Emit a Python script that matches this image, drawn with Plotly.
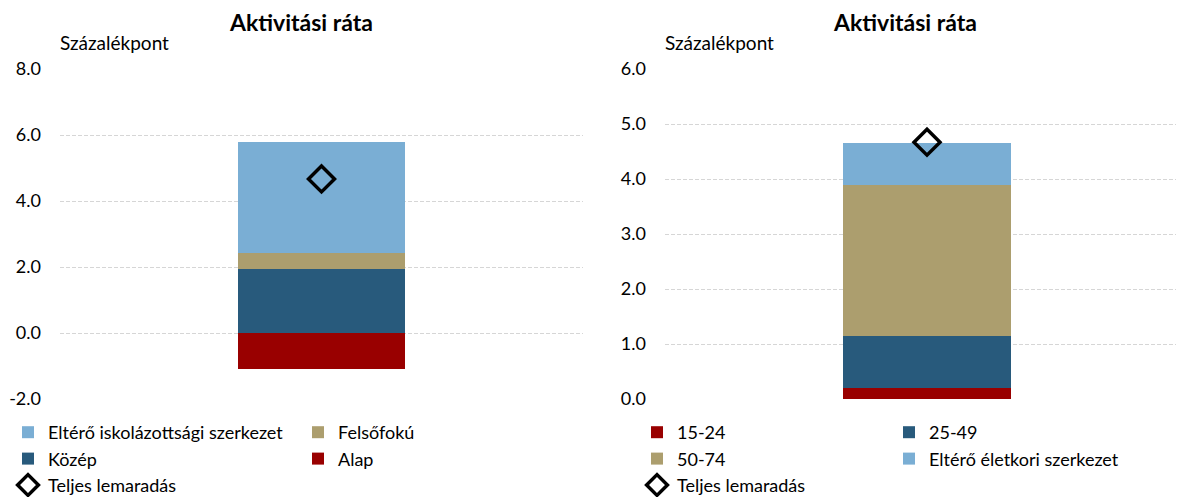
import plotly.graph_objects as go

# Left chart data (education structure)
left_categories = ["Aktivitási ráta"]
left_series = ["Alap", "Közép", "Felsőfokú", "Eltérő iskolázottsági szerkezet"]
left_values = [-1.10, 1.93, 0.48, 3.38]
left_colors = ["#990000", "#285a7c", "#ac9e6e", "#7aaed4"]
left_total = 4.67
left_tickvals = [-2, 0, 2, 4, 6, 8]
left_ticktext = ["-2.0", "0.0", "2.0", "4.0", "6.0", "8.0"]

# Right chart data (age structure)
right_categories = ["Aktivitási ráta"]
right_series = ["15-24", "25-49", "50-74", "Eltérő életkori szerkezet"]
right_values = [0.20, 0.94, 2.75, 0.77]
right_colors = ["#990000", "#285a7c", "#ac9e6e", "#7aaed4"]
right_total = 4.67
right_tickvals = [0, 1, 2, 3, 4, 5, 6]
right_ticktext = ["0.0", "1.0", "2.0", "3.0", "4.0", "5.0", "6.0"]

total_name = "Teljes lemaradás"
title_text = "Aktivitási ráta"
unit_text = "Százalékpont"

# legend layout (column groups, rank within the legend)
left_group = ["L2", "L1", "L2", "L1"]
left_rank = [5, 2, 4, 1]
right_group = ["R1", "R2", "R1", "R2"]
right_rank = [1, 4, 2, 5]

FONT = "Lato"
W, H = 1184, 497
OFF = 8  # page body margin offset
fig = go.Figure()

for name, val, col, grp, rk in zip(left_series, left_values, left_colors, left_group, left_rank):
    fig.add_trace(go.Bar(x=left_categories, y=[val], name=name, marker_color=col,
                         marker_line_width=0, width=0.32, xaxis="x", yaxis="y",
                         legend="legend", legendgroup=grp, legendrank=rk))
fig.add_trace(go.Scatter(x=left_categories, y=[left_total], name=total_name, mode="markers",
                         marker=dict(symbol="diamond-open", size=20, color="black",
                                     line=dict(width=3.5, color="black")),
                         xaxis="x", yaxis="y", legend="legend", legendgroup="L1", legendrank=3))

for name, val, col, grp, rk in zip(right_series, right_values, right_colors, right_group, right_rank):
    fig.add_trace(go.Bar(x=right_categories, y=[val], name=name, marker_color=col,
                         marker_line_width=0, width=0.32, xaxis="x2", yaxis="y2",
                         legend="legend2", legendgroup=grp, legendrank=rk))
fig.add_trace(go.Scatter(x=right_categories, y=[right_total], name=total_name, mode="markers",
                         marker=dict(symbol="diamond-open", size=20, color="black",
                                     line=dict(width=3.5, color="black")),
                         xaxis="x2", yaxis="y2", legend="legend2", legendgroup="R1", legendrank=3))

yax = dict(showgrid=True, gridcolor="#d6d6d6", griddash="4px,2px", gridwidth=1,
           zeroline=False, showline=False, ticks="",
           tickfont=dict(size=18, color="black"), ticklabelstandoff=18)
xax = dict(showticklabels=False, showgrid=False, zeroline=False, showline=False)

leg_common = dict(orientation="h", xref="container", yref="container",
                  xanchor="left", yanchor="top", entrywidthmode="pixels",
                  traceorder="grouped", tracegroupgap=0, font=dict(size=18),
                  bgcolor="rgba(0,0,0,0)", itemwidth=30)

L, T = 60 - OFF, 69 - OFF
PW = W - L
fig.update_layout(
    width=W, height=H,
    margin=dict(l=L, r=0, t=T, b=H - (399 - OFF), autoexpand=False),
    paper_bgcolor="white", plot_bgcolor="white",
    font=dict(family=FONT, size=17, color="black"),
    barmode="relative",
    bargap=0,
    xaxis=dict(domain=[0, (583 - 60) / PW], **xax),
    xaxis2=dict(domain=[(665 - 60) / PW, min(1.0, (1189 - 60) / PW)], **xax),
    yaxis=dict(range=[-2, 8], tickvals=left_tickvals, ticktext=left_ticktext, anchor="x", **yax),
    yaxis2=dict(range=[0, 6], tickvals=right_tickvals, ticktext=right_ticktext, anchor="x2", **yax),
    legend=dict(x=0.0, y=1 - (432 - OFF - 18) / H, entrywidth=245, **leg_common),
    legend2=dict(x=(658 - OFF - 21) / W, y=1 - (432 - OFF - 18) / H, entrywidth=207, **leg_common),
    showlegend=True,
)

PH = 330
def px_x(p):
    return (p - OFF - L) / PW

def px_y(p):
    return 1 + (T - (p - OFF)) / PH

annos = [
    dict(x=px_x(301), y=px_y(22), text="<b>" + title_text + "</b>",
         xanchor="center", yanchor="middle", font=dict(size=23)),
    dict(x=px_x(905), y=px_y(22), text="<b>" + title_text + "</b>",
         xanchor="center", yanchor="middle", font=dict(size=23)),
    dict(x=px_x(58), y=px_y(43), text=unit_text,
         xanchor="left", yanchor="middle", font=dict(size=19)),
    dict(x=px_x(663), y=px_y(43), text=unit_text,
         xanchor="left", yanchor="middle", font=dict(size=19)),
]
for a in annos:
    fig.add_annotation(xref="paper", yref="paper", showarrow=False, **a)

fig.write_html("out.html")
